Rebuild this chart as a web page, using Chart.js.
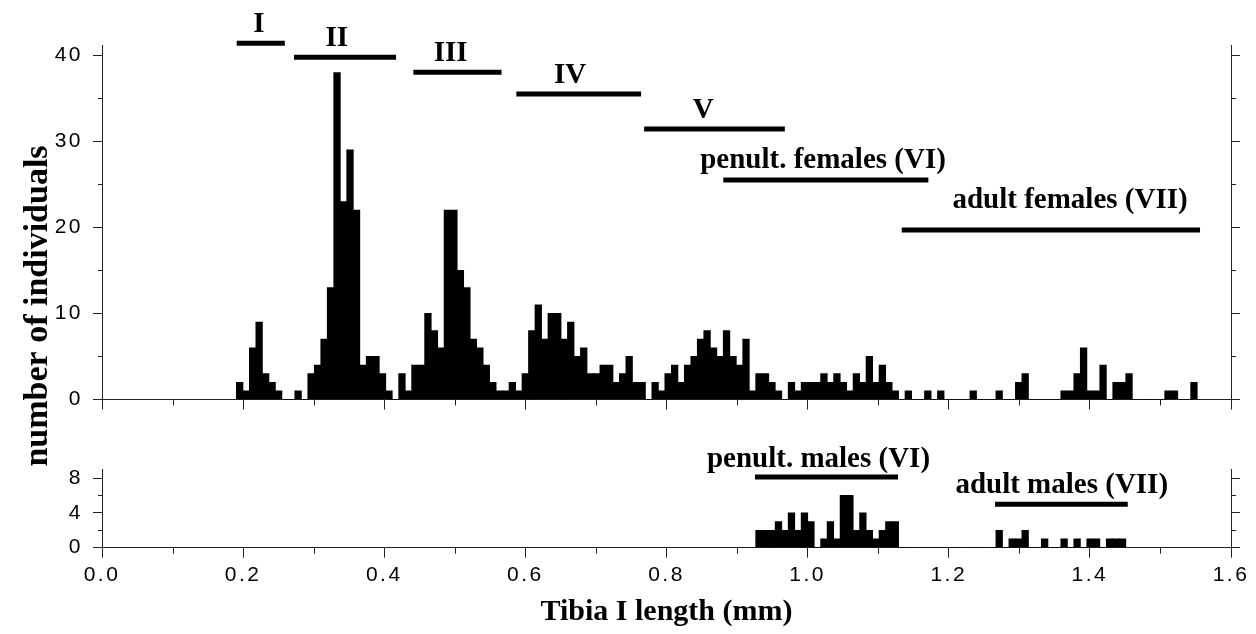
<!DOCTYPE html>
<html>
<head>
<meta charset="utf-8">
<script src="https://cdn.jsdelivr.net/npm/chart.js@4.4.1/dist/chart.umd.min.js"></script>
<style>
  html, body { margin: 0; padding: 0; background: #fff; }
  #wrap { position: relative; width: 1256px; height: 634px; }
  #wrap canvas { position: absolute; left: 0; top: 0; }
</style>
</head>
<body>
<div id="wrap">
  <canvas id="females" width="1256" height="634"></canvas>
  <canvas id="males" width="1256" height="634"></canvas>
</div>
<script>
// histogram classes of tibia I length (mm)
const binWidth = 0.0092;
const femaleFirstBin = 0.1905;   // left edge of first class in upper panel
const maleFirstBin = 0.9265;     // left edge of first class in lower panel

// females + juveniles, one count per class
const femaleCounts = [
  2, 1, 6, 9, 3, 2, 1, 0, 0, 1,
  0, 3, 4, 7, 13, 38, 23, 29, 22, 4,
  5, 5, 3, 1, 0, 3, 1, 4, 4, 10,
  8, 6, 22, 22, 15, 13, 7, 6, 4, 2,
  1, 1, 2, 1, 3, 8, 11, 7, 10, 10,
  7, 9, 5, 6, 3, 3, 4, 4, 2, 3,
  5, 2, 2, 0, 2, 1, 3, 4, 2, 4,
  5, 7, 8, 6, 5, 8, 5, 4, 7, 1,
  3, 3, 2, 1, 0, 2, 1, 2, 2, 2,
  3, 2, 3, 2, 1, 3, 2, 5, 2, 4,
  2, 1, 0, 1, 0, 0, 1, 0, 1, 0,
  0, 0, 0, 1, 0, 0, 0, 1, 0, 0,
  2, 3, 0, 0, 0, 0, 0, 1, 1, 3,
  6, 1, 1, 4, 0, 2, 2, 3, 0, 0,
  0, 0, 0, 1, 1, 0, 0, 2
];

// males
const maleCounts = [
  2, 2, 2, 3, 2, 4, 2, 4, 3, 0,
  1, 3, 1, 6, 6, 2, 4, 2, 1, 2,
  3, 3, 0, 0, 0, 0, 0, 0, 0, 0,
  0, 0, 0, 0, 0, 0, 0, 2, 0, 1,
  1, 2, 0, 0, 1, 0, 0, 1, 0, 1,
  0, 1, 1, 0, 1, 1, 1
];

// stage size ranges (mm)
const stageNames = ['I', 'II', 'III', 'IV', 'V', 'penult. females (VI)', 'adult females (VII)'];
const stageFrom = [0.1909, 0.2721, 0.4412, 0.5872, 0.7683, 0.8805, 1.1334];
const stageTo   = [0.2591, 0.4167, 0.5662, 0.7640, 0.9677, 1.1711, 1.5561];

const maleStageNames = ['penult. males (VI)', 'adult males (VII)'];
const maleStageFrom = [0.9254, 1.2656];
const maleStageTo   = [1.1281, 1.4537];

// layout of the stage bars and their labels (axis units)
const stageLineY  = [41.40, 39.77, 38.03, 35.50, 31.44, 25.51, 19.70];
const stageLabelX = [0.2224, 0.3326, 0.4940, 0.6633, 0.8522, 1.0218, 1.3719];
const stageLabelY = [42.67, 41.08, 39.34, 36.78, 32.72, 26.87, 22.26];
const maleLineY  = [8.12, 4.98];
const maleLabelX = [1.0154, 1.3601];
const maleLabelY = [9.26, 6.25];

const axisColor = '#222';
const serif = '"Liberation Serif", "Times New Roman", serif';
Chart.defaults.font.family = '"Liberation Sans", Arial, sans-serif';
Chart.defaults.font.size = 21;
Chart.defaults.color = '#000';

function toBars(first, counts) {
  return counts.map((c, i) => ({ x: first + (i + 0.5) * binWidth, y: c }));
}

function stageLines(from, to, level) {
  return from.map((f, i) => ({
    type: 'line',
    data: [{ x: f, y: level[i] }, { x: to[i], y: level[i] }],
    borderColor: '#000',
    borderWidth: 5,
    borderCapStyle: 'butt',
    pointRadius: 0,
    clip: false,
    yAxisID: 'y'
  }));
}

function decor(opts) {
  return {
    id: 'decor',
    beforeDraw(chart) {
      // tick numbers are widely tracked in the original
      chart.ctx.letterSpacing = '2.5px';
    },
    afterDraw(chart) {
      const ctx = chart.ctx;
      const x = chart.scales.x, y = chart.scales.y;
      ctx.letterSpacing = '0px';
      ctx.save();
      // minor ticks
      ctx.strokeStyle = axisColor;
      ctx.lineWidth = 1;
      ctx.beginPath();
      opts.xMinor.forEach(v => {
        const px = Math.round(x.getPixelForValue(v)) + 0.5;
        ctx.moveTo(px, y.bottom);
        ctx.lineTo(px, y.bottom + 6);
      });
      opts.yMinor.forEach(v => {
        const py = Math.round(y.getPixelForValue(v)) + 0.5;
        ctx.moveTo(x.left - 4, py);
        ctx.lineTo(x.left, py);
        ctx.moveTo(x.right, py);
        ctx.lineTo(x.right + 5, py);
      });
      ctx.stroke();
      // stage labels
      ctx.fillStyle = '#000';
      ctx.font = 'bold 29px ' + serif;
      ctx.textAlign = 'center';
      ctx.textBaseline = 'alphabetic';
      opts.names.forEach((n, i) => {
        ctx.fillText(n, x.getPixelForValue(opts.labelX[i]), y.getPixelForValue(opts.labelY[i]));
      });
      if (opts.xTitle) {
        ctx.font = 'bold 30px ' + serif;
        ctx.textBaseline = 'middle';
        ctx.fillText(opts.xTitle, (x.left + x.right) / 2, 612);
      }
      if (opts.yTitle) {
        ctx.textBaseline = 'alphabetic';
        ctx.translate(47, 306);
        ctx.rotate(-Math.PI / 2);
        ctx.font = 'bold 34px ' + serif;
        ctx.fillText(opts.yTitle, 0, 0);
      }
      ctx.restore();
    }
  };
}

function panelOptions(p) {
  return {
    responsive: false,
    animation: false,
    devicePixelRatio: 1,
    layout: { padding: { top: p.top, left: 0, right: 0, bottom: 0 } },
    plugins: { legend: { display: false }, tooltip: { enabled: false } },
    scales: {
      x: {
        type: 'linear', min: 0, max: 1.6, offset: false,
        ticks: {
          display: p.xLabels, stepSize: 0.2, includeBounds: false, padding: 5,
          callback: v => v.toFixed(1)
        },
        grid: { drawOnChartArea: false, drawTicks: true, tickLength: 10, color: axisColor, offset: false },
        border: { display: true, color: axisColor, width: 1 },
        afterFit(s) { s.height = 634 - p.bottom; }
      },
      y: {
        position: 'left', min: 0, max: p.yMax,
        ticks: { stepSize: p.yStep, includeBounds: false, padding: 10 },
        grid: { drawOnChartArea: false, drawTicks: true, tickLength: 9, color: axisColor },
        border: { display: true, color: axisColor, width: 1 },
        afterFit(s) { s.width = 102; }
      },
      yRight: {
        position: 'right', min: 0, max: p.yMax,
        ticks: { display: false, stepSize: p.yStep, includeBounds: false },
        grid: { drawOnChartArea: false, drawTicks: true, tickLength: 9, color: axisColor },
        border: { display: true, color: axisColor, width: 1 },
        afterFit(s) { s.width = 25; }
      }
    }
  };
}

const oddTenths = [0.1, 0.3, 0.5, 0.7, 0.9, 1.1, 1.3, 1.5];

new Chart(document.getElementById('females'), {
  type: 'bar',
  data: {
    datasets: [{
      data: toBars(femaleFirstBin, femaleCounts),
      backgroundColor: '#000',
      borderWidth: 0,
      barPercentage: 1,
      categoryPercentage: 1,
      inflateAmount: 0.4,
      yAxisID: 'y'
    }].concat(stageLines(stageFrom, stageTo, stageLineY))
  },
  options: panelOptions({ top: 45, bottom: 399.5, yMax: 41.2, yStep: 10, xLabels: false }),
  plugins: [decor({
    xMinor: oddTenths, yMinor: [5, 15, 25, 35],
    names: stageNames, labelX: stageLabelX, labelY: stageLabelY,
    yTitle: 'number of individuals'
  })]
});

new Chart(document.getElementById('males'), {
  type: 'bar',
  data: {
    datasets: [{
      data: toBars(maleFirstBin, maleCounts),
      backgroundColor: '#000',
      borderWidth: 0,
      barPercentage: 1,
      categoryPercentage: 1,
      inflateAmount: 0.4,
      yAxisID: 'y'
    }].concat(stageLines(maleStageFrom, maleStageTo, maleLineY))
  },
  options: panelOptions({ top: 469.3, bottom: 547.7, yMax: 9, yStep: 4, xLabels: true }),
  plugins: [decor({
    xMinor: oddTenths, yMinor: [2, 6],
    names: maleStageNames, labelX: maleLabelX, labelY: maleLabelY,
    xTitle: 'Tibia I length (mm)'
  })]
});
</script>
</body>
</html>
